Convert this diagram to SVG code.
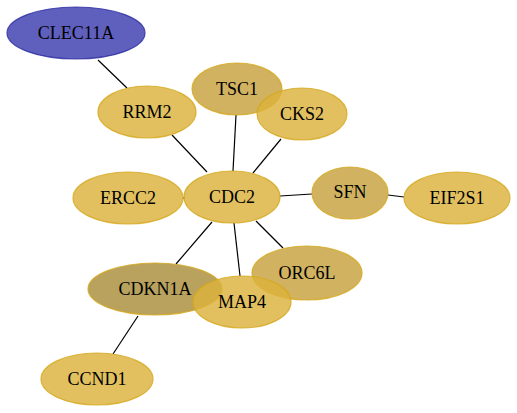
<svg xmlns="http://www.w3.org/2000/svg" width="517" height="413" viewBox="0 0 517 413">
<style>
.e{stroke:#000;stroke-width:1.2;fill:none}
.n{fill:#dcb23c;fill-opacity:0.82;stroke:#d4a81c;stroke-opacity:0.8;stroke-width:1.2}
.d{fill:#c9a544;fill-opacity:0.85}
.k{fill:#a88e3a;fill-opacity:0.82}
.b{fill:#3c3cb0;fill-opacity:0.82;stroke:#2a2aa0}
.t{font-family:'Liberation Serif','DejaVu Serif',serif;font-size:18px;text-anchor:middle;fill:#000}
</style>
<rect width="517" height="413" fill="#fff"/>
<g id="edges">
<line class="e" x1="98" y1="60" x2="127" y2="88"/>
<line class="e" x1="172" y1="135" x2="207" y2="172"/>
<line class="e" x1="236" y1="115" x2="233" y2="171"/>
<line class="e" x1="281" y1="139" x2="253" y2="173"/>
<line class="e" x1="280" y1="196" x2="312" y2="194"/>
<line class="e" x1="388" y1="195" x2="404" y2="197"/>
<line class="e" x1="183" y1="198" x2="185" y2="198"/>
<line class="e" x1="212" y1="222" x2="176" y2="264"/>
<line class="e" x1="234" y1="223" x2="240" y2="276"/>
<line class="e" x1="256" y1="221" x2="283" y2="248"/>
<line class="e" x1="138" y1="316" x2="113" y2="354"/>
</g>
<g id="CLEC11A"><ellipse class="n b" cx="76" cy="33" rx="69" ry="26"/><text class="t" x="76" y="39">CLEC11A</text></g>
<g id="RRM2"><ellipse class="n" cx="147" cy="112" rx="49" ry="26"/><text class="t" x="147" y="118">RRM2</text></g>
<g id="TSC1"><ellipse class="n d" cx="237" cy="89" rx="45" ry="26"/><text class="t" x="237" y="95">TSC1</text></g>
<g id="CKS2"><ellipse class="n" cx="302" cy="114" rx="45" ry="26"/><text class="t" x="302" y="120">CKS2</text></g>
<g id="CDC2"><ellipse class="n" cx="232" cy="197" rx="48" ry="26"/><text class="t" x="232" y="203">CDC2</text></g>
<g id="SFN"><ellipse class="n d" cx="350" cy="193" rx="38" ry="26"/><text class="t" x="350" y="198">SFN</text></g>
<g id="EIF2S1"><ellipse class="n" cx="457" cy="198" rx="53" ry="26"/><text class="t" x="457" y="204">EIF2S1</text></g>
<g id="ERCC2"><ellipse class="n" cx="128" cy="198" rx="55" ry="26"/><text class="t" x="128" y="204">ERCC2</text></g>
<g id="CDKN1A"><ellipse class="n k" cx="155" cy="289" rx="67" ry="26"/><text class="t" x="155" y="295">CDKN1A</text></g>
<g id="ORC6L"><ellipse class="n d" cx="307" cy="273" rx="55" ry="27"/><text class="t" x="307" y="279">ORC6L</text></g>
<g id="MAP4"><ellipse class="n" cx="242" cy="302" rx="49" ry="26"/><text class="t" x="242" y="308">MAP4</text></g>
<g id="CCND1"><ellipse class="n" cx="97" cy="379" rx="56" ry="26"/><text class="t" x="97" y="385">CCND1</text></g>
</svg>
